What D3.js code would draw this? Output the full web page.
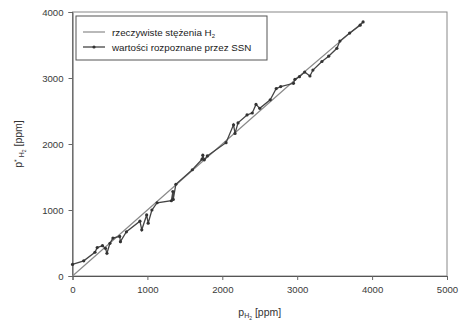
<!DOCTYPE html>
<html>
<head>
<meta charset="utf-8">
<script src="https://d3js.org/d3.v7.min.js"></script>
<style>
    body { margin: 0; background: #fff; }
    svg text { font-family: "Liberation Sans", Arial, sans-serif; fill: #333; }
    .tick text { font-size: 9.6px; }
</style>
</head>
<body>
<script>
// actual H2 concentrations (thin grey line)
var actualX = [0, 1000, 2000, 3000, 3880];
var actualY = [0, 1000, 2000, 3000, 3850];

// values recognised by the network (dark line with dots)
var ssnX = [0, 150, 300, 330, 400, 440, 460, 500, 540, 630, 640, 720, 900, 925, 990, 1010, 1060, 1130,
    1320, 1340, 1345, 1380, 1600, 1730, 1740, 1760, 1800, 2050, 2150, 2170, 2210, 2330, 2400, 2450, 2500,
    2640, 2720, 2780, 2950, 2970, 3030, 3100, 3170, 3210, 3330, 3420, 3530, 3570, 3700, 3840, 3880];
var ssnY = [175, 230, 360, 430, 460, 420, 345, 495, 575, 600, 520, 670, 830, 700, 925, 800, 1000, 1110,
    1140, 1280, 1160, 1390, 1610, 1770, 1830, 1760, 1820, 2020, 2290, 2160, 2320, 2440, 2470, 2600, 2540,
    2670, 2840, 2870, 2920, 2980, 3020, 3090, 3030, 3120, 3250, 3330, 3450, 3560, 3680, 3800, 3850];

var xTicks = [0, 1000, 2000, 3000, 4000, 5000];
var yTicks = [0, 1000, 2000, 3000, 4000];

var legendLabels = ["rzeczywiste stężenia H", "wartości rozpoznane przez SSN"];

Plot();

function Plot() {
    var margin = { top: 12, right: 16, bottom: 49, left: 72.5 };
    var fullW = 463, fullH = 325;
    var width = fullW - margin.left - margin.right;
    var height = fullH - margin.top - margin.bottom;

    var svg = d3.select("body").append("svg")
        .attr("width", fullW)
        .attr("height", fullH);

    var g = svg.append("g")
        .attr("transform", "translate(" + margin.left + "," + margin.top + ")");

    var x = d3.scaleLinear().domain([0, 5000]).range([0, width]);
    var y = d3.scaleLinear().domain([0, 4000]).range([height, 0]);

    // frame
    g.append("rect")
        .attr("width", width)
        .attr("height", height)
        .style("fill", "none")
        .style("stroke", "#888")
        .style("stroke-width", 1);

    var xAxis = d3.axisBottom(x).tickValues(xTicks).tickSize(4).tickPadding(6).tickFormat(d3.format("d"));
    var yAxis = d3.axisLeft(y).tickValues(yTicks).tickSize(4).tickPadding(5).tickFormat(d3.format("d"));

    var gX = g.append("g")
        .attr("transform", "translate(0," + height + ")")
        .call(xAxis);
    var gY = g.append("g").call(yAxis);
    [gX, gY].forEach(function (a) {
        a.select(".domain").style("stroke", "#555");
        a.selectAll(".tick line").style("stroke", "#666");
        a.selectAll(".tick text").style("fill", "#3a3a3a");
    });

    var actual = actualX.map(function (d, i) { return { x: d, y: actualY[i] }; });
    var ssn = ssnX.map(function (d, i) { return { x: d, y: ssnY[i] }; });

    var line = d3.line()
        .x(function (d) { return x(d.x); })
        .y(function (d) { return y(d.y); });

    g.append("path")
        .datum(actual)
        .style("fill", "none")
        .style("stroke", "#8a8a8a")
        .style("stroke-width", 1.2)
        .attr("d", line);

    g.append("path")
        .datum(ssn)
        .style("fill", "none")
        .style("stroke", "#444")
        .style("stroke-width", 1.3)
        .attr("d", line);

    g.selectAll(".dot")
        .data(ssn)
        .enter().append("circle")
        .attr("class", "dot")
        .attr("cx", function (d) { return x(d.x); })
        .attr("cy", function (d) { return y(d.y); })
        .attr("r", 1.6)
        .style("fill", "#333");

    // legend
    var lg = svg.append("g").attr("transform", "translate(76,16)");
    lg.append("rect")
        .attr("width", 191)
        .attr("height", 44)
        .style("fill", "#fff")
        .style("stroke", "#555")
        .style("stroke-width", 1);
    lg.append("line")
        .attr("x1", 7).attr("x2", 29).attr("y1", 16).attr("y2", 16)
        .style("stroke", "#8a8a8a").style("stroke-width", 1.2);
    lg.append("line")
        .attr("x1", 7).attr("x2", 29).attr("y1", 31).attr("y2", 31)
        .style("stroke", "#444").style("stroke-width", 1.3);
    lg.append("circle").attr("cx", 18).attr("cy", 31).attr("r", 1.6).style("fill", "#333");
    var t1 = lg.append("text").attr("x", 36).attr("y", 19.5).style("font-size", "9.8px").style("fill", "#222");
    t1.append("tspan").text(legendLabels[0]);
    t1.append("tspan").attr("dy", 2).style("font-size", "6px").text("2");
    lg.append("text").attr("x", 36).attr("y", 34.5).style("font-size", "9.8px").style("fill", "#222").text(legendLabels[1]);

    // x axis label
    var xl = svg.append("text")
        .attr("x", margin.left + width / 2)
        .attr("y", 316)
        .style("text-anchor", "middle")
        .style("font-size", "10.5px");
    xl.append("tspan").text("p");
    xl.append("tspan").attr("dy", 2).style("font-size", "7px").text("H");
    xl.append("tspan").attr("dy", 2).style("font-size", "5px").text("2");
    xl.append("tspan").attr("dy", -4).text(" [ppm]");

    // y axis label
    var yl = svg.append("text")
        .attr("transform", "translate(22," + (margin.top + height / 2) + ") rotate(-90)")
        .style("text-anchor", "middle")
        .style("font-size", "10.5px");
    yl.append("tspan").text("p");
    yl.append("tspan").attr("dy", -3).style("font-size", "7px").text("*");
    yl.append("tspan").attr("dy", 5).style("font-size", "7px").text(" H");
    yl.append("tspan").attr("dy", 2).style("font-size", "5px").text("2");
    yl.append("tspan").attr("dy", -4).text(" [ppm]");
}
</script>
</body>
</html>
